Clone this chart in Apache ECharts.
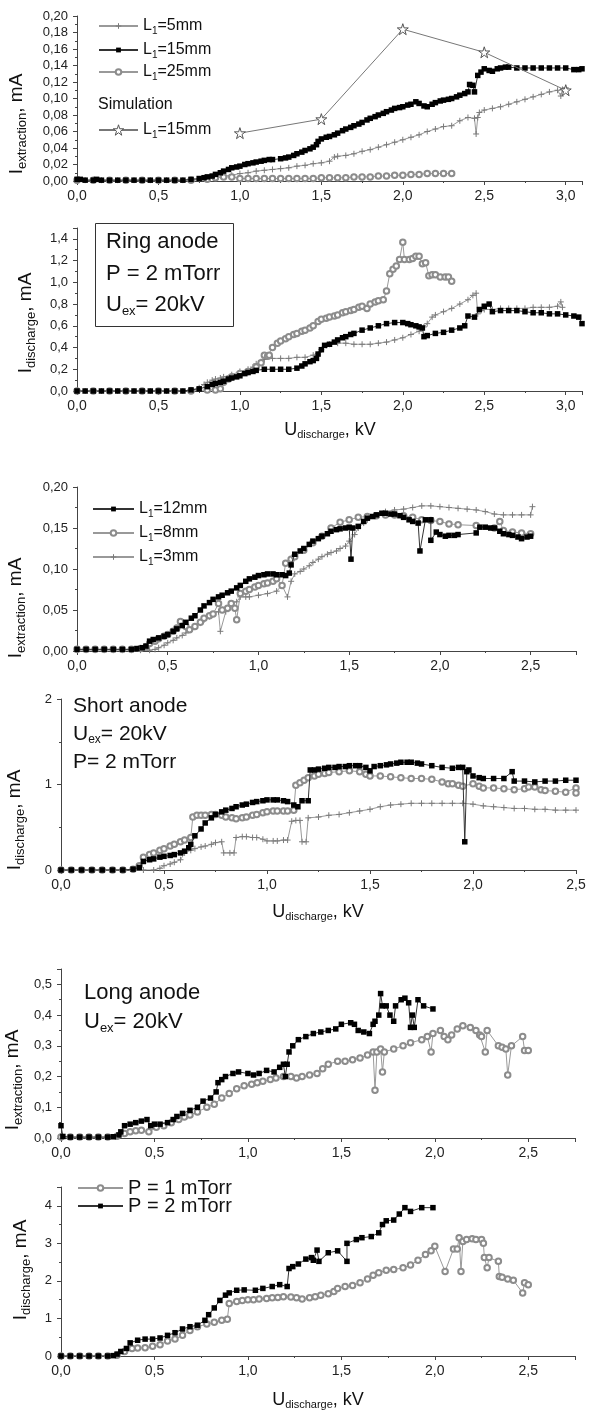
<!DOCTYPE html>
<html><head><meta charset="utf-8">
<script src="https://cdn.jsdelivr.net/npm/echarts@6/dist/echarts.min.js"></script>
<style>html,body{margin:0;padding:0;background:#fff}#c{width:590px;height:1412px}</style>
</head><body><div id="c"></div>
<script>
// ---------- DATA (U_discharge kV, current mA) ----------
// Panel 1: ring anode, I_extraction
const p1_L5 = [[0,0.001],[0.05,0.001],[0.1,0.001],[0.15,0.001],[0.2,0.001],[0.25,0.001],[0.3,0.001],[0.35,0.001],[0.4,0.001],[0.45,0.001],[0.5,0.001],[0.55,0.001],[0.6,0.001],[0.65,0.001],[0.7,0.001],[0.75,0.002],[0.8,0.003],[0.85,0.004],[0.9,0.006],[0.95,0.007],[1.0,0.009],[1.05,0.010],[1.1,0.012],[1.15,0.013],[1.2,0.014],[1.25,0.015],[1.3,0.016],[1.35,0.018],[1.4,0.019],[1.45,0.021],[1.5,0.022],[1.55,0.024],[1.58,0.029],[1.6,0.030],[1.65,0.031],[1.7,0.033],[1.75,0.036],[1.8,0.038],[1.85,0.041],[1.9,0.044],[1.95,0.047],[2.0,0.050],[2.05,0.053],[2.1,0.056],[2.15,0.060],[2.2,0.063],[2.25,0.066],[2.3,0.067],[2.35,0.073],[2.4,0.077],[2.44,0.076],[2.45,0.057],[2.46,0.077],[2.47,0.083],[2.5,0.086],[2.55,0.088],[2.6,0.090],[2.65,0.093],[2.7,0.096],[2.75,0.099],[2.8,0.102],[2.85,0.105],[2.9,0.108],[2.95,0.110],[2.97,0.103],[2.98,0.111],[3.0,0.113]];
const p1_L15 = [[0,0.002],[0.02,0.002],[0.05,0.001],[0.1,0.001],[0.12,0.002],[0.15,0.001],[0.2,0.001],[0.25,0.001],[0.3,0.001],[0.35,0.001],[0.4,0.001],[0.45,0.001],[0.5,0.001],[0.55,0.001],[0.6,0.001],[0.65,0.001],[0.7,0.002],[0.75,0.003],[0.78,0.004],[0.8,0.005],[0.83,0.006],[0.85,0.008],[0.88,0.010],[0.9,0.012],[0.93,0.014],[0.95,0.016],[0.98,0.017],[1.0,0.018],[1.03,0.020],[1.05,0.021],[1.08,0.022],[1.1,0.023],[1.13,0.024],[1.15,0.025],[1.18,0.026],[1.2,0.026],[1.25,0.027],[1.28,0.028],[1.3,0.029],[1.33,0.031],[1.35,0.033],[1.38,0.035],[1.4,0.037],[1.43,0.039],[1.45,0.041],[1.47,0.044],[1.48,0.048],[1.5,0.051],[1.53,0.053],[1.55,0.054],[1.58,0.056],[1.6,0.058],[1.63,0.061],[1.65,0.063],[1.68,0.065],[1.7,0.067],[1.73,0.069],[1.75,0.071],[1.78,0.074],[1.8,0.076],[1.83,0.078],[1.85,0.080],[1.88,0.082],[1.9,0.084],[1.93,0.086],[1.95,0.088],[1.98,0.089],[2.0,0.090],[2.03,0.092],[2.05,0.093],[2.08,0.096],[2.1,0.094],[2.13,0.091],[2.15,0.090],[2.18,0.093],[2.2,0.095],[2.23,0.097],[2.25,0.098],[2.28,0.099],[2.3,0.100],[2.33,0.102],[2.35,0.104],[2.38,0.106],[2.4,0.108],[2.41,0.117],[2.43,0.116],[2.44,0.108],[2.46,0.128],[2.48,0.132],[2.5,0.136],[2.53,0.134],[2.55,0.133],[2.58,0.136],[2.6,0.137],[2.63,0.138],[2.65,0.138],[2.7,0.137],[2.75,0.137],[2.8,0.137],[2.85,0.137],[2.9,0.137],[2.95,0.137],[3.0,0.137],[3.05,0.135],[3.08,0.135],[3.1,0.136]];
const p1_L25 = [[0,0.001],[0.1,0.001],[0.2,0.001],[0.3,0.001],[0.4,0.001],[0.5,0.001],[0.6,0.001],[0.7,0.001],[0.8,0.002],[0.85,0.004],[0.9,0.005],[0.95,0.005],[1.0,0.003],[1.05,0.003],[1.1,0.003],[1.15,0.003],[1.2,0.003],[1.25,0.003],[1.3,0.003],[1.35,0.003],[1.4,0.003],[1.45,0.003],[1.5,0.004],[1.55,0.004],[1.6,0.004],[1.65,0.004],[1.7,0.005],[1.75,0.005],[1.8,0.005],[1.85,0.006],[1.9,0.006],[1.95,0.007],[2.0,0.007],[2.05,0.008],[2.1,0.008],[2.15,0.009],[2.2,0.009],[2.25,0.009],[2.3,0.009]];
const p1_sim = [[1.0,0.058],[1.5,0.075],[2.0,0.184],[2.5,0.156],[3.0,0.110]];

// Panel 2: ring anode, I_discharge
const p2_L5 = [[0,0],[0.05,0],[0.1,0],[0.15,0],[0.2,0],[0.25,0],[0.3,0],[0.35,0],[0.4,0],[0.45,0],[0.5,0],[0.55,0],[0.6,0],[0.65,0],[0.7,0.01],[0.75,0.03],[0.78,0.06],[0.8,0.08],[0.83,0.10],[0.85,0.11],[0.88,0.12],[0.9,0.13],[0.95,0.15],[1.0,0.18],[1.05,0.20],[1.08,0.22],[1.1,0.25],[1.13,0.27],[1.15,0.29],[1.2,0.30],[1.25,0.30],[1.3,0.30],[1.35,0.31],[1.4,0.31],[1.45,0.33],[1.5,0.38],[1.53,0.42],[1.55,0.43],[1.6,0.44],[1.65,0.44],[1.7,0.43],[1.75,0.43],[1.8,0.43],[1.85,0.44],[1.9,0.45],[1.95,0.47],[2.0,0.49],[2.05,0.52],[2.1,0.55],[2.13,0.59],[2.15,0.62],[2.18,0.68],[2.2,0.70],[2.25,0.73],[2.3,0.76],[2.35,0.80],[2.4,0.84],[2.43,0.88],[2.45,0.90],[2.46,0.71],[2.48,0.74],[2.5,0.75],[2.55,0.75],[2.6,0.76],[2.65,0.76],[2.7,0.76],[2.75,0.76],[2.8,0.77],[2.85,0.77],[2.9,0.77],[2.95,0.78],[2.97,0.82],[2.98,0.77]];
const p2_L15 = [[0,0],[0.05,0],[0.1,0],[0.15,0],[0.2,0],[0.25,0],[0.3,0],[0.35,0],[0.4,0],[0.45,0],[0.5,0],[0.55,0],[0.6,0],[0.65,0],[0.7,0.01],[0.75,0.02],[0.8,0.04],[0.83,0.06],[0.85,0.07],[0.88,0.08],[0.9,0.09],[0.93,0.11],[0.95,0.12],[0.98,0.13],[1.0,0.14],[1.03,0.16],[1.05,0.17],[1.08,0.18],[1.1,0.19],[1.15,0.20],[1.2,0.20],[1.25,0.20],[1.3,0.20],[1.35,0.21],[1.38,0.23],[1.4,0.25],[1.43,0.27],[1.45,0.28],[1.47,0.30],[1.48,0.34],[1.5,0.38],[1.52,0.42],[1.55,0.43],[1.58,0.45],[1.6,0.47],[1.63,0.49],[1.65,0.50],[1.68,0.52],[1.7,0.53],[1.75,0.56],[1.8,0.58],[1.85,0.60],[1.9,0.62],[1.95,0.63],[2.0,0.63],[2.03,0.62],[2.05,0.61],[2.08,0.60],[2.1,0.59],[2.12,0.58],[2.13,0.50],[2.15,0.51],[2.2,0.53],[2.25,0.54],[2.3,0.56],[2.35,0.58],[2.38,0.60],[2.4,0.69],[2.44,0.68],[2.47,0.75],[2.5,0.78],[2.53,0.80],[2.55,0.73],[2.6,0.74],[2.65,0.74],[2.7,0.74],[2.75,0.73],[2.8,0.72],[2.85,0.72],[2.9,0.71],[2.95,0.71],[3.0,0.70],[3.05,0.69],[3.08,0.68],[3.1,0.62]];
const p2_L25 = [[0,0],[0.1,0],[0.2,0],[0.3,0],[0.4,0],[0.5,0],[0.6,0],[0.7,0],[0.8,0.01],[0.85,0.01],[0.88,0.02],[0.9,0.08],[0.93,0.11],[0.95,0.13],[1.0,0.16],[1.05,0.18],[1.1,0.22],[1.13,0.26],[1.15,0.33],[1.17,0.32],[1.18,0.33],[1.2,0.40],[1.23,0.44],[1.25,0.46],[1.28,0.48],[1.3,0.50],[1.33,0.52],[1.35,0.53],[1.38,0.55],[1.4,0.56],[1.43,0.58],[1.45,0.60],[1.48,0.64],[1.5,0.66],[1.53,0.67],[1.55,0.68],[1.58,0.69],[1.6,0.70],[1.63,0.72],[1.65,0.73],[1.68,0.74],[1.7,0.75],[1.73,0.77],[1.75,0.78],[1.78,0.76],[1.8,0.80],[1.83,0.82],[1.85,0.83],[1.88,0.84],[1.9,0.92],[1.92,1.08],[1.94,1.12],[1.96,1.15],[1.98,1.21],[2.0,1.37],[2.01,1.21],[2.04,1.21],[2.06,1.22],[2.08,1.24],[2.1,1.24],[2.12,1.17],[2.14,1.18],[2.16,1.06],[2.18,1.07],[2.2,1.07],[2.23,1.05],[2.26,1.05],[2.28,1.05],[2.3,1.01]];

// Panel 3: short anode, I_extraction
const p3_L12 = [[0,0.002],[0.05,0.002],[0.1,0.002],[0.15,0.002],[0.2,0.002],[0.25,0.002],[0.3,0.002],[0.33,0.003],[0.36,0.004],[0.38,0.006],[0.4,0.012],[0.42,0.014],[0.45,0.016],[0.48,0.018],[0.5,0.020],[0.53,0.024],[0.55,0.027],[0.58,0.031],[0.6,0.035],[0.63,0.040],[0.65,0.043],[0.68,0.050],[0.7,0.055],[0.73,0.059],[0.75,0.063],[0.78,0.066],[0.8,0.068],[0.83,0.071],[0.85,0.073],[0.88,0.077],[0.9,0.080],[0.93,0.085],[0.95,0.088],[0.98,0.090],[1.0,0.092],[1.03,0.093],[1.05,0.094],[1.08,0.094],[1.1,0.093],[1.13,0.093],[1.15,0.092],[1.17,0.095],[1.18,0.105],[1.2,0.118],[1.23,0.122],[1.25,0.125],[1.28,0.130],[1.3,0.134],[1.33,0.137],[1.35,0.140],[1.38,0.143],[1.4,0.146],[1.43,0.148],[1.45,0.149],[1.48,0.150],[1.5,0.151],[1.51,0.112],[1.52,0.150],[1.55,0.152],[1.58,0.158],[1.6,0.162],[1.63,0.164],[1.65,0.166],[1.68,0.168],[1.7,0.168],[1.73,0.167],[1.75,0.167],[1.78,0.165],[1.8,0.163],[1.83,0.160],[1.85,0.158],[1.88,0.156],[1.89,0.122],[1.92,0.160],[1.95,0.160],[1.95,0.135],[1.98,0.145],[2.0,0.142],[2.03,0.140],[2.05,0.141],[2.08,0.141],[2.1,0.142],[2.2,0.144],[2.22,0.151],[2.25,0.151],[2.28,0.150],[2.3,0.150],[2.33,0.146],[2.35,0.143],[2.38,0.142],[2.4,0.141],[2.43,0.139],[2.45,0.137],[2.48,0.139],[2.5,0.140]];
const p3_L8 = [[0,0.002],[0.05,0.002],[0.1,0.002],[0.15,0.002],[0.2,0.002],[0.25,0.002],[0.3,0.002],[0.35,0.003],[0.38,0.005],[0.4,0.009],[0.43,0.012],[0.45,0.015],[0.48,0.018],[0.5,0.020],[0.53,0.024],[0.55,0.028],[0.57,0.036],[0.6,0.030],[0.62,0.026],[0.65,0.030],[0.68,0.035],[0.7,0.040],[0.73,0.043],[0.75,0.045],[0.78,0.058],[0.8,0.050],[0.83,0.052],[0.85,0.058],[0.87,0.052],[0.88,0.038],[0.9,0.070],[0.93,0.073],[0.95,0.075],[0.98,0.078],[1.0,0.080],[1.03,0.082],[1.05,0.083],[1.08,0.085],[1.1,0.088],[1.13,0.080],[1.15,0.107],[1.18,0.112],[1.2,0.115],[1.25,0.123],[1.3,0.132],[1.35,0.140],[1.4,0.150],[1.45,0.157],[1.5,0.160],[1.55,0.163],[1.6,0.164],[1.65,0.165],[1.7,0.166],[1.75,0.166],[1.8,0.165],[1.85,0.163],[1.9,0.160],[1.95,0.159],[2.0,0.158],[2.05,0.155],[2.1,0.154],[2.2,0.153],[2.3,0.150],[2.33,0.158],[2.35,0.147],[2.4,0.145],[2.45,0.144],[2.5,0.143]];
const p3_L3 = [[0,0.001],[0.05,0.001],[0.1,0.001],[0.15,0.001],[0.2,0.001],[0.25,0.001],[0.3,0.001],[0.35,0.001],[0.4,0.001],[0.43,0.002],[0.45,0.004],[0.48,0.007],[0.5,0.010],[0.53,0.013],[0.55,0.016],[0.58,0.019],[0.6,0.022],[0.63,0.026],[0.65,0.030],[0.68,0.034],[0.7,0.038],[0.73,0.042],[0.75,0.045],[0.78,0.048],[0.79,0.024],[0.82,0.048],[0.85,0.058],[0.88,0.060],[0.9,0.066],[0.93,0.066],[0.95,0.066],[1.0,0.068],[1.05,0.070],[1.1,0.073],[1.13,0.080],[1.16,0.066],[1.18,0.085],[1.2,0.094],[1.23,0.097],[1.25,0.100],[1.28,0.104],[1.3,0.108],[1.33,0.112],[1.35,0.115],[1.38,0.118],[1.4,0.120],[1.43,0.122],[1.45,0.125],[1.48,0.128],[1.5,0.134],[1.53,0.142],[1.55,0.150],[1.58,0.156],[1.6,0.160],[1.65,0.165],[1.7,0.170],[1.75,0.172],[1.8,0.173],[1.85,0.175],[1.9,0.177],[1.95,0.177],[2.0,0.176],[2.05,0.175],[2.1,0.174],[2.15,0.173],[2.2,0.172],[2.25,0.170],[2.3,0.167],[2.35,0.166],[2.4,0.166],[2.45,0.166],[2.5,0.166],[2.51,0.176]];

// Panel 4: short anode, I_discharge
const p4_L12 = [[0,0],[0.05,0],[0.1,0],[0.15,0],[0.2,0],[0.25,0],[0.3,0],[0.35,0.01],[0.38,0.03],[0.4,0.10],[0.43,0.12],[0.45,0.13],[0.48,0.15],[0.5,0.16],[0.53,0.17],[0.55,0.18],[0.58,0.20],[0.6,0.22],[0.62,0.26],[0.63,0.30],[0.65,0.40],[0.68,0.48],[0.7,0.55],[0.73,0.61],[0.75,0.65],[0.78,0.68],[0.8,0.70],[0.83,0.72],[0.85,0.74],[0.88,0.76],[0.9,0.77],[0.93,0.79],[0.95,0.80],[0.98,0.81],[1.0,0.82],[1.03,0.82],[1.05,0.82],[1.08,0.81],[1.1,0.80],[1.13,0.76],[1.15,0.74],[1.17,0.81],[1.2,0.81],[1.21,1.17],[1.23,1.17],[1.25,1.18],[1.28,1.19],[1.3,1.20],[1.33,1.20],[1.35,1.21],[1.38,1.21],[1.4,1.22],[1.43,1.22],[1.45,1.22],[1.48,1.20],[1.5,1.16],[1.52,1.21],[1.55,1.22],[1.58,1.23],[1.6,1.24],[1.63,1.25],[1.65,1.26],[1.68,1.26],[1.7,1.26],[1.73,1.25],[1.75,1.24],[1.8,1.22],[1.85,1.20],[1.9,1.19],[1.93,1.20],[1.95,1.20],[1.96,0.33],[1.97,1.15],[1.98,1.17],[2.0,1.10],[2.03,1.08],[2.05,1.07],[2.1,1.07],[2.15,1.07],[2.19,1.15],[2.2,1.04],[2.25,1.04],[2.3,1.03],[2.35,1.04],[2.4,1.04],[2.45,1.05],[2.5,1.05]];
const p4_L8 = [[0,0],[0.05,0],[0.1,0],[0.15,0],[0.2,0],[0.25,0],[0.3,0],[0.35,0.01],[0.38,0.05],[0.4,0.15],[0.43,0.18],[0.45,0.20],[0.48,0.23],[0.5,0.25],[0.53,0.28],[0.55,0.30],[0.58,0.33],[0.6,0.35],[0.63,0.38],[0.64,0.62],[0.66,0.64],[0.68,0.64],[0.7,0.64],[0.73,0.65],[0.75,0.65],[0.78,0.64],[0.8,0.62],[0.83,0.61],[0.85,0.60],[0.88,0.61],[0.9,0.62],[0.93,0.64],[0.95,0.65],[0.98,0.67],[1.0,0.68],[1.03,0.69],[1.05,0.69],[1.08,0.69],[1.1,0.69],[1.13,0.70],[1.14,0.99],[1.16,1.02],[1.18,1.05],[1.2,1.08],[1.23,1.10],[1.25,1.12],[1.28,1.13],[1.3,1.14],[1.35,1.15],[1.4,1.16],[1.45,1.15],[1.48,1.12],[1.5,1.10],[1.55,1.10],[1.6,1.09],[1.65,1.08],[1.7,1.07],[1.75,1.07],[1.8,1.06],[1.85,1.03],[1.88,1.01],[1.9,1.01],[1.93,0.99],[1.95,0.98],[2.0,1.01],[2.03,0.98],[2.05,0.96],[2.1,0.96],[2.15,0.95],[2.2,0.94],[2.25,0.95],[2.27,0.97],[2.3,0.97],[2.33,0.94],[2.35,0.93],[2.4,0.92],[2.45,0.91],[2.5,0.96],[2.5,0.90]];
const p4_L3 = [[0,0],[0.05,0],[0.1,0],[0.15,0],[0.2,0],[0.25,0],[0.3,0],[0.35,0],[0.4,0],[0.45,0],[0.48,0.02],[0.5,0.05],[0.53,0.07],[0.55,0.09],[0.58,0.12],[0.6,0.20],[0.63,0.23],[0.65,0.25],[0.68,0.27],[0.7,0.28],[0.73,0.30],[0.75,0.32],[0.78,0.33],[0.79,0.20],[0.82,0.20],[0.84,0.20],[0.85,0.38],[0.88,0.39],[0.9,0.39],[0.93,0.38],[0.95,0.38],[0.98,0.36],[1.0,0.34],[1.03,0.34],[1.05,0.34],[1.08,0.35],[1.1,0.35],[1.12,0.57],[1.14,0.58],[1.16,0.58],[1.17,0.33],[1.19,0.33],[1.2,0.61],[1.25,0.62],[1.3,0.64],[1.35,0.65],[1.4,0.67],[1.45,0.69],[1.5,0.71],[1.55,0.74],[1.6,0.76],[1.65,0.77],[1.7,0.78],[1.75,0.78],[1.8,0.78],[1.85,0.78],[1.9,0.78],[1.95,0.78],[2.0,0.77],[2.05,0.75],[2.1,0.74],[2.15,0.73],[2.2,0.72],[2.25,0.72],[2.3,0.71],[2.35,0.71],[2.4,0.70],[2.45,0.70],[2.5,0.70]];

// Panel 5: long anode, I_extraction
const p5_P1 = [[0,0.003],[0.05,0.003],[0.1,0.003],[0.15,0.003],[0.2,0.003],[0.25,0.003],[0.3,0.006],[0.34,0.015],[0.37,0.02],[0.4,0.024],[0.43,0.025],[0.47,0.02],[0.51,0.035],[0.55,0.04],[0.59,0.05],[0.63,0.06],[0.66,0.068],[0.69,0.075],[0.73,0.085],[0.78,0.1],[0.82,0.11],[0.86,0.13],[0.9,0.145],[0.94,0.16],[0.98,0.17],[1.02,0.175],[1.05,0.18],[1.08,0.185],[1.12,0.19],[1.15,0.195],[1.19,0.2],[1.23,0.2],[1.26,0.195],[1.29,0.2],[1.33,0.205],[1.37,0.21],[1.4,0.225],[1.43,0.24],[1.48,0.25],[1.52,0.25],[1.56,0.255],[1.6,0.26],[1.64,0.27],[1.67,0.28],[1.68,0.155],[1.69,0.28],[1.71,0.29],[1.72,0.215],[1.73,0.28],[1.78,0.29],[1.83,0.30],[1.87,0.31],[1.93,0.32],[1.96,0.33],[1.98,0.28],[1.99,0.34],[2.03,0.35],[2.05,0.33],[2.07,0.32],[2.09,0.335],[2.12,0.355],[2.15,0.365],[2.19,0.36],[2.22,0.35],[2.24,0.335],[2.25,0.33],[2.27,0.28],[2.28,0.35],[2.34,0.30],[2.36,0.295],[2.38,0.29],[2.39,0.205],[2.41,0.30],[2.47,0.33],[2.48,0.285],[2.5,0.285]];
const p5_P2 = [[0,0.04],[0.01,0.005],[0.05,0.003],[0.1,0.003],[0.15,0.003],[0.2,0.003],[0.25,0.003],[0.28,0.004],[0.31,0.01],[0.32,0.02],[0.34,0.04],[0.37,0.045],[0.4,0.05],[0.43,0.055],[0.46,0.06],[0.48,0.04],[0.5,0.045],[0.53,0.045],[0.57,0.05],[0.6,0.06],[0.62,0.07],[0.65,0.08],[0.69,0.09],[0.73,0.1],[0.76,0.12],[0.8,0.13],[0.83,0.15],[0.84,0.18],[0.86,0.19],[0.88,0.2],[0.92,0.21],[0.95,0.215],[1.0,0.21],[1.03,0.205],[1.06,0.21],[1.1,0.22],[1.14,0.215],[1.17,0.23],[1.19,0.24],[1.2,0.2],[1.21,0.24],[1.22,0.28],[1.24,0.3],[1.27,0.32],[1.31,0.33],[1.35,0.34],[1.39,0.345],[1.43,0.35],[1.47,0.355],[1.5,0.37],[1.55,0.375],[1.57,0.37],[1.59,0.35],[1.62,0.345],[1.65,0.34],[1.67,0.37],[1.68,0.38],[1.7,0.4],[1.71,0.47],[1.72,0.43],[1.74,0.43],[1.76,0.4],[1.78,0.38],[1.79,0.43],[1.82,0.45],[1.84,0.455],[1.86,0.44],[1.87,0.36],[1.88,0.40],[1.89,0.36],[1.91,0.45],[1.94,0.43],[1.99,0.42]];

// Panel 6: long anode, I_discharge
const p6_P1 = [[0,0],[0.05,0],[0.1,0],[0.15,0],[0.2,0],[0.25,0],[0.3,0.02],[0.34,0.12],[0.38,0.2],[0.41,0.21],[0.45,0.22],[0.49,0.26],[0.53,0.3],[0.57,0.4],[0.61,0.45],[0.65,0.55],[0.69,0.68],[0.73,0.78],[0.78,0.85],[0.82,0.9],[0.86,0.95],[0.89,0.98],[0.9,1.4],[0.94,1.45],[0.97,1.48],[1.0,1.5],[1.03,1.5],[1.06,1.52],[1.1,1.53],[1.13,1.55],[1.16,1.56],[1.19,1.58],[1.23,1.57],[1.26,1.55],[1.29,1.52],[1.33,1.55],[1.36,1.58],[1.39,1.62],[1.43,1.66],[1.46,1.72],[1.48,1.8],[1.52,1.85],[1.56,1.88],[1.6,1.95],[1.64,2.05],[1.67,2.15],[1.7,2.22],[1.74,2.28],[1.78,2.3],[1.83,2.35],[1.87,2.42],[1.91,2.55],[1.95,2.7],[1.98,2.8],[2.0,2.92],[2.055,2.25],[2.1,2.85],[2.12,2.85],[2.13,3.15],[2.14,2.25],[2.15,3.05],[2.17,3.1],[2.2,3.12],[2.22,3.1],[2.25,3.1],[2.26,3.0],[2.265,2.62],[2.28,2.35],[2.29,2.62],[2.34,2.52],[2.345,2.12],[2.36,2.1],[2.39,2.05],[2.42,2.02],[2.47,1.68],[2.48,1.95],[2.5,1.9]];
const p6_P2 = [[0,0],[0.05,0],[0.1,0],[0.15,0],[0.2,0],[0.25,0],[0.28,0.01],[0.3,0.05],[0.32,0.12],[0.35,0.2],[0.37,0.35],[0.41,0.42],[0.45,0.45],[0.49,0.45],[0.53,0.48],[0.57,0.55],[0.61,0.62],[0.65,0.72],[0.69,0.78],[0.73,0.82],[0.77,0.95],[0.79,1.1],[0.82,1.28],[0.85,1.48],[0.88,1.62],[0.9,1.68],[0.94,1.75],[0.98,1.76],[1.04,1.75],[1.08,1.8],[1.13,1.85],[1.17,1.9],[1.21,1.85],[1.22,2.33],[1.24,2.38],[1.27,2.45],[1.31,2.58],[1.34,2.62],[1.35,2.55],[1.37,2.82],[1.38,2.52],[1.43,2.75],[1.48,2.8],[1.53,2.52],[1.53,3.0],[1.58,3.1],[1.61,3.15],[1.66,3.18],[1.7,3.28],[1.72,3.5],[1.74,3.6],[1.78,3.62],[1.81,3.78],[1.84,3.95],[1.87,3.85],[1.93,3.95],[1.99,3.95]];

// ---------- STYLE ----------
const FONT = 'Liberation Sans, Arial, sans-serif';
const TXT = '#111';
const crossPath = 'path://M0,5H10M5,0V10';
const starPath = 'path://M5,0L6.18,3.62L10,3.62L6.91,5.86L8.09,9.5L5,7.24L1.91,9.5L3.09,5.86L0,3.62L3.82,3.62Z';

const STY = {
  sq: {symbol:'rect', symbolSize:5.5, itemStyle:{color:'#000', borderWidth:0}, lineStyle:{color:'#333', width:1}, z:4},
  ci: {symbol:'emptyCircle', symbolSize:5.5, itemStyle:{color:'#8c8c8c', borderWidth:1}, lineStyle:{color:'#999', width:1}, z:3},
  cr: {symbol:crossPath, symbolSize:6, itemStyle:{color:'#7a7a7a', borderColor:'#7a7a7a', borderWidth:1}, lineStyle:{color:'#999', width:1}, z:2},
  st: {symbol:starPath, symbolSize:11, itemStyle:{color:'#fff', borderColor:'#555', borderWidth:1}, lineStyle:{color:'#777', width:1}, z:5}
};
const KIND = {};
function mk(name, data, kind, idx){
  KIND[name] = kind;
  return Object.assign({type:'line', name, data, xAxisIndex:idx, yAxisIndex:idx, showSymbol:true, animation:false, emphasis:{disabled:true}},
    JSON.parse(JSON.stringify(STY[kind])));
}

const grids = [
  {left:77, top:16, width:505, height:165},
  {left:77, top:228, width:505, height:163},
  {left:77, top:487, width:499, height:164},
  {left:61, top:699, width:515, height:171},
  {left:61, top:969, width:514, height:169},
  {left:61, top:1187, width:514, height:169}
];
const xMax = [3.1, 3.1, 2.75, 2.5, 2.75, 2.75];
const yMax = [0.2, 1.5, 0.2, 2, 0.55, 4.5];
const yInt = [0.02, 0.2, 0.05, 1, 0.1, 1];
const yDec = [2, 1, 2, 0, 1, 0];

function fmt(v, dec, step){
  const r = v/step;
  if (Math.abs(r - Math.round(r)) > 1e-6) return '';
  return v.toFixed(dec).replace('.', ',');
}
function axisCommon(){ return {
  axisLine:{show:true, onZero:false, lineStyle:{color:'#444', width:1}},
  axisTick:{show:true, inside:false, length:4, lineStyle:{color:'#444'}},
  minorTick:{show:true, splitNumber:2, length:2, lineStyle:{color:'#444'}},
  splitLine:{show:false}
};}
const xAxes = grids.map((g,i)=>Object.assign({type:'value', gridIndex:i, min:0, max:xMax[i], interval:0.5,
  axisLabel:{fontSize:14, color:'#222', fontFamily:FONT, margin:8, formatter:v=>fmt(v,1,0.5)}}, axisCommon()));
const yAxes = grids.map((g,i)=>Object.assign({type:'value', gridIndex:i, min:0, max:yMax[i], interval:yInt[i],
  axisLabel:{fontSize:13, color:'#222', fontFamily:FONT, margin:9, formatter:v=>fmt(v,yDec[i],yInt[i])}}, axisCommon()));

const series = [
  mk('p1_5', p1_L5, 'cr', 0), mk('p1_25', p1_L25, 'ci', 0), mk('p1_15', p1_L15, 'sq', 0), mk('p1_sim', p1_sim, 'st', 0),
  mk('p2_5', p2_L5, 'cr', 1), mk('p2_25', p2_L25, 'ci', 1), mk('p2_15', p2_L15, 'sq', 1),
  mk('p3_3', p3_L3, 'cr', 2), mk('p3_8', p3_L8, 'ci', 2), mk('p3_12', p3_L12, 'sq', 2),
  mk('p4_3', p4_L3, 'cr', 3), mk('p4_8', p4_L8, 'ci', 3), mk('p4_12', p4_L12, 'sq', 3),
  mk('p5_1', p5_P1, 'ci', 4), mk('p5_2', p5_P2, 'sq', 4),
  mk('p6_1', p6_P1, 'ci', 5), mk('p6_2', p6_P2, 'sq', 5)
];

// ---------- LEGENDS ----------
const legRich = {a:{fontSize:16, color:TXT, fontFamily:FONT, lineHeight:22}, s:{fontSize:10, color:TXT, fontFamily:FONT, lineHeight:12, padding:[10,0,0,0]}};
function leg(name, label, left, cy, w, fs){
  const k = KIND[name];
  const ih = k==='st' ? 13 : (k==='sq' ? 6 : 7);
  return {data:[{name, itemStyle:Object.assign({}, STY[k].itemStyle)}], left, top:cy-11, orient:'horizontal', padding:0, itemGap:0,
    itemWidth:w, itemHeight:ih, selectedMode:false, formatter:()=>label,
    textStyle:{fontSize:fs||16, color:TXT, fontFamily:FONT, lineHeight:22, rich:legRich}};
}
const legends = [
  leg('p1_5', '{a|L}{s|1}{a|=5mm}', 98, 26, 39),
  leg('p1_15', '{a|L}{s|1}{a|=15mm}', 98, 50, 39),
  leg('p1_25', '{a|L}{s|1}{a|=25mm}', 98, 72, 39),
  leg('p1_sim', '{a|L}{s|1}{a|=15mm}', 98, 130, 39),
  leg('p3_12', '{a|L}{s|1}{a|=12mm}', 92, 509, 41),
  leg('p3_8', '{a|L}{s|1}{a|=8mm}', 92, 533, 41),
  leg('p3_3', '{a|L}{s|1}{a|=3mm}', 92, 557, 41),
  leg('p6_1', 'P = 1 mTorr', 77, 1188, 45, 20),
  leg('p6_2', 'P = 2 mTorr', 77, 1206, 45, 20)
];

// ---------- TEXTS ----------
function rich(m, s, p){ return {m:{fontSize:m, fontFamily:FONT, fill:TXT}, s:{fontSize:s, fontFamily:FONT, fill:TXT, padding:[p,0,0,0]}}; }
function gt(x, y, text, m, s, p, rot, align){
  return {type:'text', x, y, rotation:rot||0, silent:true, z:10,
    style:{text, rich:rich(m,s,p), fontSize:m, fontFamily:FONT, fill:TXT, align:align||'center', verticalAlign:'middle'}};
}
const R = Math.PI/2;
const graphics = [
  // y-axis titles
  gt(17, 124, '{m|I}{s|extraction}{m|, mA}', 19, 13, 11, R),
  gt(26, 323, '{m|I}{s|discharge}{m|, mA}', 19, 13, 11, R),
  gt(16, 608, '{m|I}{s|extraction}{m|, mA}', 19, 13, 11, R),
  gt(15, 820, '{m|I}{s|discharge}{m|, mA}', 19, 13, 11, R),
  gt(13, 1080, '{m|I}{s|extraction}{m|, mA}', 19, 13, 11, R),
  gt(21, 1270, '{m|I}{s|discharge}{m|, mA}', 19, 13, 11, R),
  // x-axis titles
  gt(330, 430, '{m|U}{s|discharge}{m|, kV}', 18, 11, 10, 0),
  gt(318, 912, '{m|U}{s|discharge}{m|, kV}', 18, 11, 10, 0),
  gt(318, 1400, '{m|U}{s|discharge}{m|, kV}', 18, 11, 10, 0),
  // panel 1 legend caption
  gt(98, 105, '{m|Simulation}', 16, 10, 0, 0, 'left'),
  // panel 2 box
  {type:'rect', shape:{x:95.5, y:223.5, width:138, height:103}, style:{fill:'none', stroke:'#333', lineWidth:1}, silent:true, z:9},
  gt(106, 242, '{m|Ring anode}', 22, 13, 0, 0, 'left'),
  gt(106, 274, '{m|P = 2 mTorr}', 22, 13, 0, 0, 'left'),
  gt(106, 305, '{m|U}{s|ex}{m|= 20kV}', 22, 13, 12, 0, 'left'),
  // panel 4
  gt(73, 706, '{m|Short anode}', 21, 12, 0, 0, 'left'),
  gt(73, 734, '{m|U}{s|ex}{m|= 20kV}', 21, 12, 12, 0, 'left'),
  gt(73, 762, '{m|P= 2 mTorr}', 21, 12, 0, 0, 'left'),
  // panel 5
  gt(84, 993, '{m|Long anode}', 22, 13, 0, 0, 'left'),
  gt(84, 1022, '{m|U}{s|ex}{m|= 20kV}', 22, 13, 12, 0, 'left')
];

const chart = echarts.init(document.getElementById('c'), null, {renderer:'canvas'});
chart.setOption({
  backgroundColor:'#fff', animation:false,
  grid: grids, xAxis: xAxes, yAxis: yAxes, series, legend: legends, graphic: graphics
});
</script></body></html>
